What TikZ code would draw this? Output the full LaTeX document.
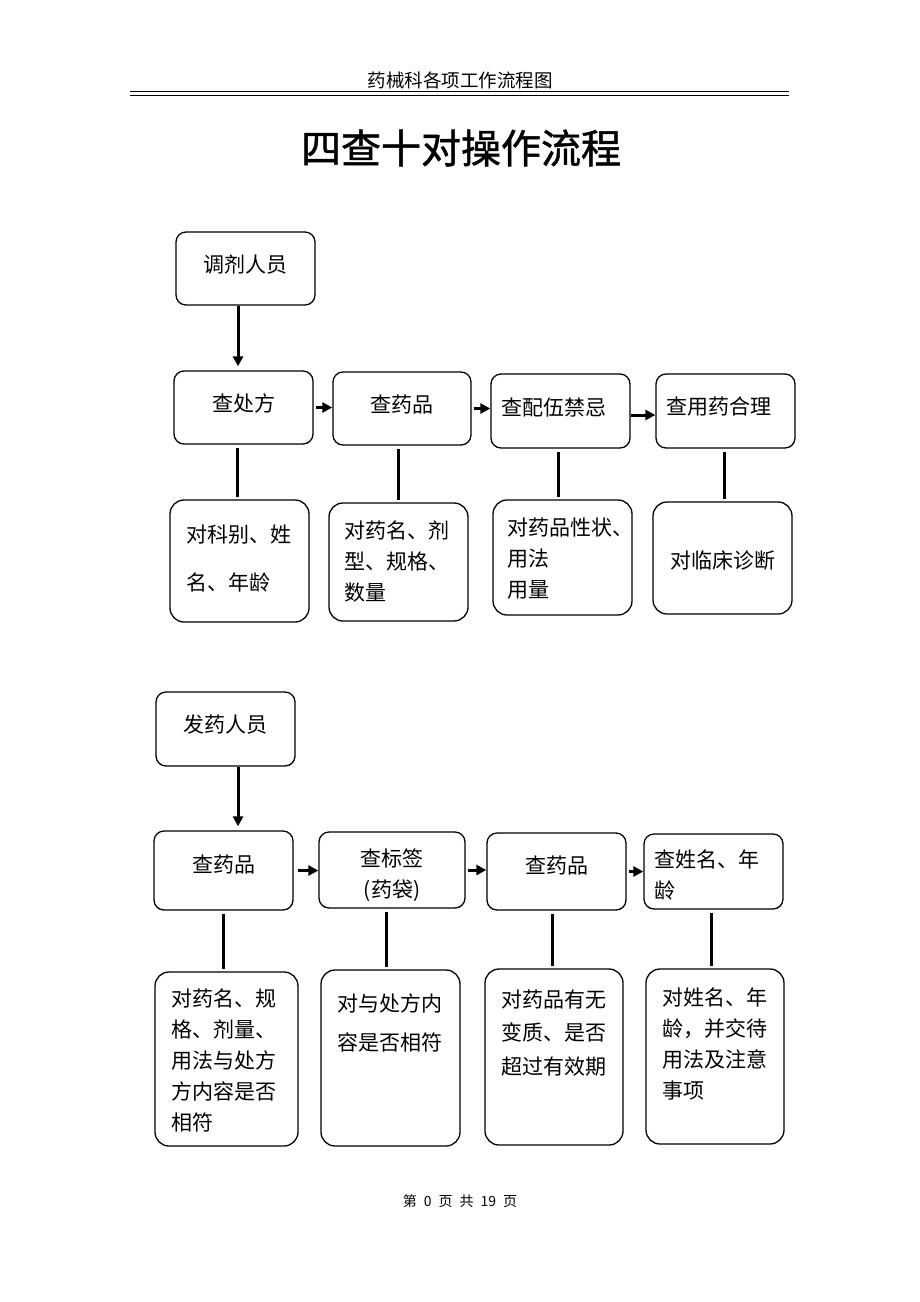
\documentclass[tikz,border=0pt]{standalone}
\usepackage{fontspec}
\newfontfamily\cjk{Noto Sans CJK SC}
\newfontfamily\cjktitle[FakeBold=1.2]{Noto Sans CJK SC}
\usetikzlibrary{arrows.meta}
\newcommand\boxfont{\cjk\fontsize{10.5}{15.5}\selectfont}

\begin{document}
\begin{tikzpicture}[x=0.5pt,y=-0.5pt,
  box/.style={draw,line width=0.65pt,rounded corners=5pt,inner ysep=0pt,font=\boxfont},
  tall box/.style={box,rounded corners=7pt},
  arr/.style={-{Triangle[length=5pt,width=5pt]},line width=1.5pt},
  link/.style={line width=1.5pt,shorten <=1.5pt,shorten >=1pt}]
  \useasboundingbox (0,0) rectangle (920,1302);

  % header
  \node[font=\cjk\fontsize{9.25}{11}\selectfont] (hd) at (460,80) {药械科各项工作流程图};
  \draw[line width=0.8pt] (130,91.5) -- (789,91.5);
  \draw[line width=0.8pt] (130,95.5) -- (789,95.5);
  \node[font=\cjktitle\fontsize{20}{24}\selectfont] (title) at (461,148) {四查十对操作流程};

  % 调剂
  \node[box,align=center,text width=59.5pt,inner xsep=5pt,text height=20pt,text depth=16.5pt] (dj) at (245.5,268.5) {调剂人员};
  \node[box,align=center,text width=59.5pt,inner xsep=5pt,text height=20pt,text depth=16.5pt] (cf) at (243.5,407.5) {查处方};
  \node[box,align=center,text width=59pt,inner xsep=5pt,text height=20pt,text depth=16.5pt] (cyp) at (402,408.5) {查药品};
  \node[box,align=left,text width=59.5pt,inner xsep=5pt,text height=20.5pt,text depth=16.5pt] (cpw) at (560.5,411) {查配伍禁忌};
  \node[box,align=left,text width=59.5pt,inner xsep=5pt,text height=20pt,text depth=17pt] (cyy) at (725.5,411) {查用药合理};

  \node[tall box,align=left,text width=53.5pt,inner xsep=8pt,text height=21pt,text depth=40pt] (dkb) at (239.5,561) {对科别、姓\\[8.5pt]名、年龄};
  \node[tall box,align=left,text width=54.5pt,inner xsep=7.5pt,text height=17.5pt,text depth=41.5pt] (dym) at (398.5,562) {对药名、剂\\型、规格、\\数量};
  \node[tall box,align=left,text width=55.5pt,inner xsep=7pt,text height=17.5pt,text depth=40pt] (dxz) at (562.5,557.5) {对药品性状、\\用法\\用量};
  \node[tall box,align=center,text width=59.5pt,inner xsep=5pt,text height=33pt,text depth=23pt] (dlc) at (722.5,558) {对临床诊断};

  \draw[arr,shorten >=2pt] ([xshift=-3.75pt]dj.south) -- ([xshift=-3.75pt]dj.south |- cf.north);
  \draw[arr,shorten <=1pt] (cf.east) -- (cf.east -| cyp.west);
  \draw[arr,shorten <=1pt] (cyp.east) -- (cyp.east -| cpw.west);
  \draw[arr] ([yshift=-2pt]cpw.east) -- ([yshift=-2pt]cpw.east -| cyy.west);

  \draw[link] ([xshift=-3.25pt]cf.south) -- ([xshift=-3.25pt]cf.south |- dkb.north);
  \draw[link] ([xshift=-2pt]cyp.south) -- ([xshift=-2pt]cyp.south |- dym.north);
  \draw[link] ([xshift=-1.25pt]cpw.south) -- ([xshift=-1.25pt]cpw.south |- dxz.north);
  \draw[link] ([xshift=-0.75pt]cyy.south) -- ([xshift=-0.75pt]cyy.south |- dlc.north);

  % 发药
  \node[box,align=center,text width=59.5pt,inner xsep=5pt,text height=20pt,text depth=17pt] (fy) at (225.5,729) {发药人员};
  \node[box,align=center,text width=59.5pt,inner xsep=5pt,text height=20.5pt,text depth=19pt] (cyp2) at (223.5,870.5) {查药品};
  \node[box,align=center,text width=63pt,inner xsep=5pt,text height=17pt,text depth=21pt] (cbq) at (392,870) {查标签\\(药袋)};
  \node[box,align=center,text width=59.5pt,inner xsep=5pt,text height=20pt,text depth=18.5pt] (cyp3) at (556.5,871.5) {查药品};
  \node[box,align=left,text width=59.5pt,inner xsep=5pt,text height=16.5pt,text depth=21pt] (cxm) at (713.5,871.5) {查姓名、年\\龄};

  \node[tall box,align=left,text width=55.5pt,inner xsep=8pt,text height=17pt,text depth=70pt] (dyg) at (226.5,1059) {对药名、规\\格、剂量、\\用法与处方\\方内容是否\\相符};
  \node[tall box,align=left,text width=53.5pt,inner xsep=8pt,text height=20.5pt,text depth=67.5pt] (dnr) at (390.5,1058) {对与处方内\\[4pt]容是否相符};
  \node[tall box,align=left,text width=53pt,inner xsep=8pt,text height=19pt,text depth=69pt] (dbz) at (554,1057) {对药品有无\\[1.25pt]变质、是否\\[1.25pt]超过有效期};
  \node[tall box,align=left,text width=53pt,inner xsep=8pt,text height=18pt,text depth=69.5pt] (dxm) at (715,1056.5) {对姓名、年\\龄，并交待\\用法及注意\\事项};

  \draw[arr,shorten >=2pt] ([xshift=6.25pt]fy.south) -- ([xshift=6.25pt]fy.south |- cyp2.north);
  \draw[arr,shorten <=2pt] (cyp2.east) -- (cyp2.east -| cbq.west);
  \draw[arr,shorten <=1pt] (cbq.east) -- (cbq.east -| cyp3.west);
  \draw[arr,shorten <=1pt] (cyp3.east) -- (cyp3.east -| cxm.west);

  \draw[link] (cyp2.south) -- (cyp2.south |- dyg.north);
  \draw[link] ([xshift=-3pt]cbq.south) -- ([xshift=-3pt]cbq.south |- dnr.north);
  \draw[link] ([xshift=-2.25pt]cyp3.south) -- ([xshift=-2.25pt]cyp3.south |- dbz.north);
  \draw[link] ([xshift=-1.25pt]cxm.south) -- ([xshift=-1.25pt]cxm.south |- dxm.north);

  % footer
  \node[font=\cjk\fontsize{7}{8}\selectfont] (ft) at (460,1201) {第\enspace 0\enspace 页\enspace 共\enspace 19\enspace 页};
\end{tikzpicture}
\end{document}
